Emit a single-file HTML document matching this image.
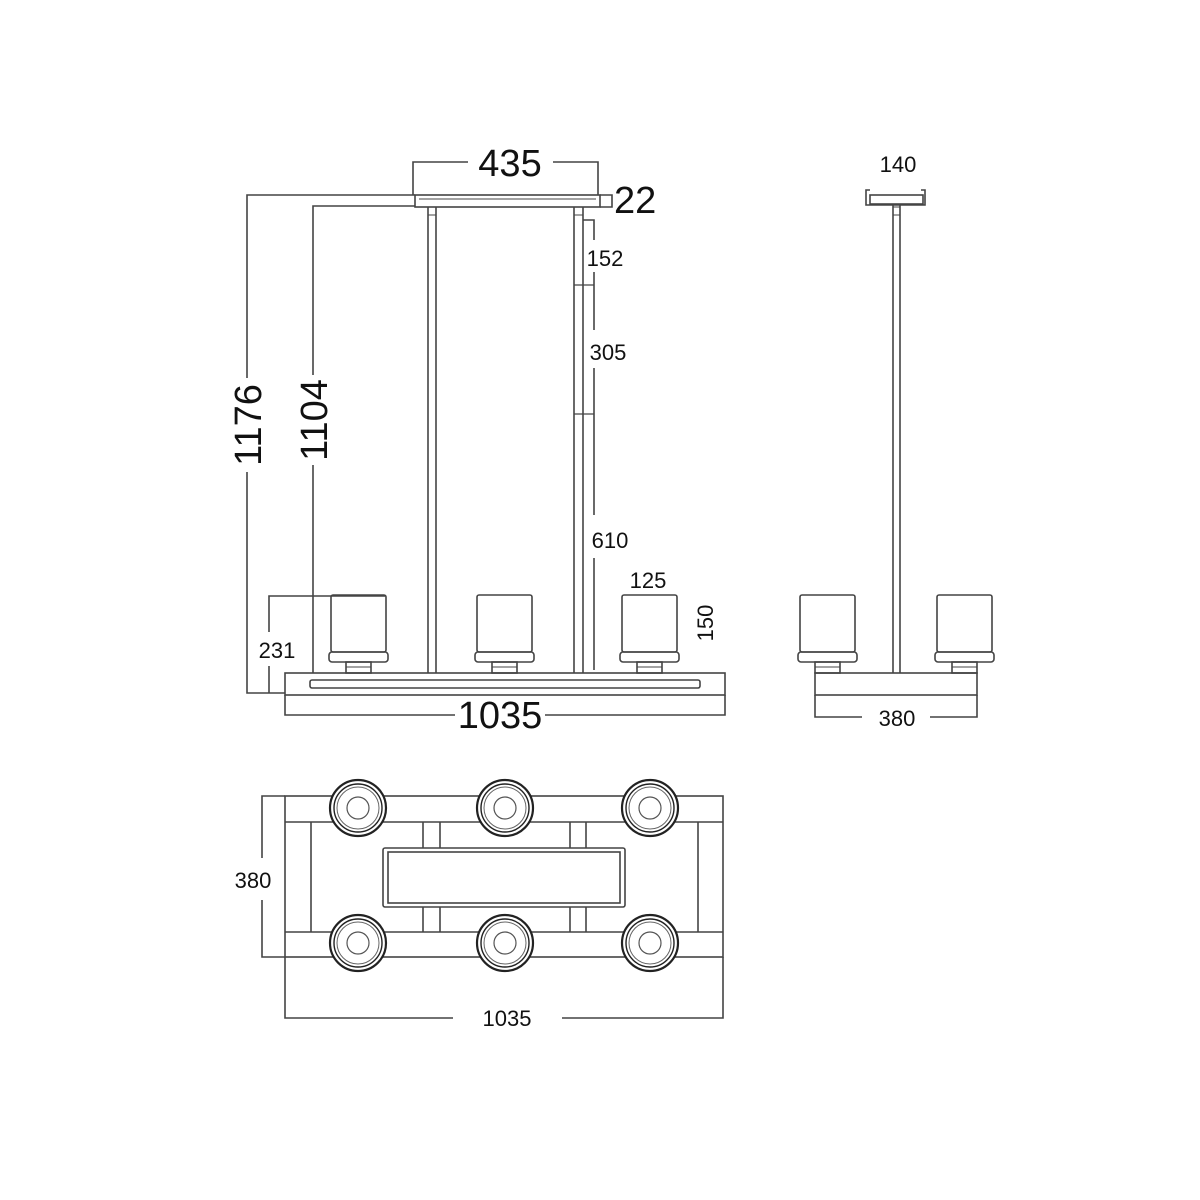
<!DOCTYPE html>
<html><head><meta charset="utf-8"><style>
html,body{margin:0;padding:0;background:#fff}
svg{display:block}
text{font-family:"Liberation Sans",Arial,sans-serif;fill:#111}
</style></head><body>
<svg width="1200" height="1200" viewBox="0 0 1200 1200" xmlns="http://www.w3.org/2000/svg">
<g fill="none" stroke="#444" stroke-width="1.6">
<!-- FRONT VIEW -->
<!-- canopy -->
<rect x="415" y="195" width="185" height="12"/>
<line x1="419" y1="199" x2="596" y2="199" stroke-width="1"/>
<!-- 435 dim -->
<polyline points="413,195 413,162 468,162"/>
<polyline points="553,162 598,162 598,195"/>
<!-- 22 dim -->
<polyline points="600,195 612,195 612,207 600,207"/>
<!-- 1176 -->
<polyline points="415,195 247,195 247,378"/>
<polyline points="247,472 247,693 285,693"/>
<!-- 1104 -->
<polyline points="415,206 313,206 313,375"/>
<line x1="313" y1="465" x2="313" y2="673"/>
<!-- 231 -->
<polyline points="385,596 269,596 269,632"/>
<line x1="269" y1="666" x2="269" y2="693"/>
<!-- rods -->
<line x1="428" y1="207" x2="428" y2="673"/>
<line x1="436" y1="207" x2="436" y2="673"/>
<line x1="574" y1="207" x2="574" y2="673"/>
<line x1="583" y1="207" x2="583" y2="673"/>
<rect x="428" y="207" width="8" height="8" stroke-width="1"/>
<rect x="574" y="207" width="9" height="8" stroke-width="1"/>
<line x1="574" y1="285" x2="594" y2="285" stroke-width="1.2"/>
<line x1="574" y1="414" x2="594" y2="414" stroke-width="1.2"/>
<!-- rod dim line -->
<polyline points="583,220 594,220 594,240"/>
<line x1="594" y1="272" x2="594" y2="330"/>
<line x1="594" y1="368" x2="594" y2="515"/>
<line x1="594" y1="558" x2="594" y2="670"/>
<!-- base -->
<rect x="285" y="673" width="440" height="22"/>
<rect x="310" y="680" width="390" height="8" rx="2"/>
<polyline points="285,695 285,715 455,715"/>
<polyline points="545,715 725,715 725,695"/>
<!-- shades -->
<g id="sh">
<rect x="331" y="595" width="55" height="57" rx="2"/>
<rect x="329" y="652" width="59" height="10" rx="3"/>
<rect x="346" y="662" width="25" height="11"/>
<line x1="346" y1="667" x2="371" y2="667" stroke-width="1"/>
</g>
<use href="#sh" x="146"/>
<use href="#sh" x="291"/>
<!-- SIDE VIEW -->
<polyline points="870,190 866,190 866,205 925,205 925,190 921,190"/>
<rect x="870" y="195" width="53" height="9"/>
<line x1="893" y1="205" x2="893" y2="673"/>
<line x1="900" y1="205" x2="900" y2="673"/>
<rect x="893" y="207" width="7" height="8" stroke-width="1"/>
<use href="#sh" x="469"/>
<use href="#sh" x="606"/>
<rect x="815" y="673" width="162" height="22"/>
<polyline points="815,695 815,717 862,717"/>
<polyline points="930,717 977,717 977,695"/>
<!-- TOP VIEW -->
<polyline points="285,796 262,796 262,858"/>
<polyline points="262,900 262,957 285,957"/>
<rect x="285" y="796" width="438" height="161"/>
<line x1="285" y1="822" x2="723" y2="822"/>
<line x1="285" y1="932" x2="723" y2="932"/>
<line x1="311" y1="822" x2="311" y2="932"/>
<line x1="698" y1="822" x2="698" y2="932"/>
<rect x="383" y="848" width="242" height="59" rx="2"/>
<rect x="388" y="852" width="232" height="51"/>
<line x1="423" y1="822" x2="423" y2="848"/><line x1="440" y1="822" x2="440" y2="848"/>
<line x1="570" y1="822" x2="570" y2="848"/><line x1="586" y1="822" x2="586" y2="848"/>
<line x1="423" y1="907" x2="423" y2="932"/><line x1="440" y1="907" x2="440" y2="932"/>
<line x1="570" y1="907" x2="570" y2="932"/><line x1="586" y1="907" x2="586" y2="932"/>
<polyline points="285,957 285,1018 453,1018"/>
<polyline points="562,1018 723,1018 723,957"/>
</g>
<!-- circles -->
<g id="ci" fill="#fff" stroke="#222">
<circle cx="358" cy="808" r="28" stroke-width="2.2"/>
<circle cx="358" cy="808" r="24" stroke-width="1.4"/>
<circle cx="358" cy="808" r="21" stroke-width="1" stroke="#666"/>
<circle cx="358" cy="808" r="11" stroke-width="1.2" stroke="#555"/>
</g>
<use href="#ci" x="147"/><use href="#ci" x="292"/>
<use href="#ci" y="135"/><use href="#ci" x="147" y="135"/><use href="#ci" x="292" y="135"/>
<!-- TEXT -->
<text x="510" y="176" font-size="38" text-anchor="middle">435</text>
<text x="614" y="213" font-size="38">22</text>
<text x="605" y="266" font-size="22" text-anchor="middle">152</text>
<text x="608" y="360" font-size="22" text-anchor="middle">305</text>
<text x="610" y="548" font-size="22" text-anchor="middle">610</text>
<text x="648" y="588" font-size="22" text-anchor="middle">125</text>
<text transform="translate(713,623) rotate(-90)" font-size="22" text-anchor="middle">150</text>
<text x="277" y="658" font-size="22" text-anchor="middle">231</text>
<text transform="translate(261,425) rotate(-90)" font-size="38" text-anchor="middle">1176</text>
<text transform="translate(327,420) rotate(-90)" font-size="38" text-anchor="middle">1104</text>
<text x="500" y="728" font-size="38" text-anchor="middle">1035</text>
<text x="898" y="172" font-size="22" text-anchor="middle">140</text>
<text x="897" y="726" font-size="22" text-anchor="middle">380</text>
<text x="253" y="888" font-size="22" text-anchor="middle">380</text>
<text x="507" y="1026" font-size="22" text-anchor="middle">1035</text>
</svg>
</body></html>
